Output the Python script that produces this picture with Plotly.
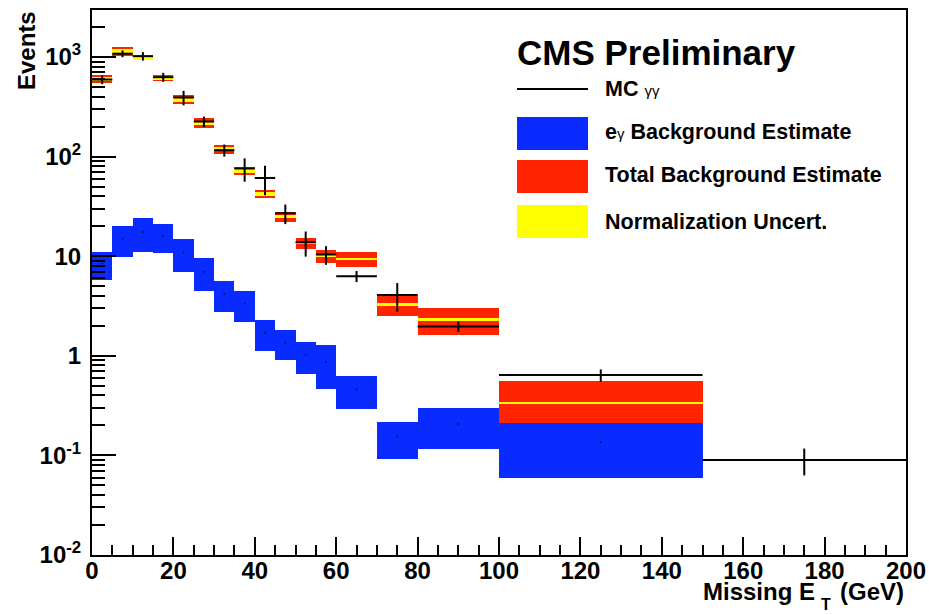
import plotly.graph_objects as go

# Missing ET binning (GeV)
bin_lo = [0, 5, 10, 15, 20, 25, 30, 35, 40, 45, 50, 55, 60, 70, 80, 100, 150]
bin_hi = [5, 10, 15, 20, 25, 30, 35, 40, 45, 50, 55, 60, 70, 80, 100, 150, 200]

# MC gamma-gamma prediction
mc_gg = [594, 1080, 1020, 628, 392, 225, 116, 76, 61, 27, 13.8, 10.4, 6.3, 4.07, 1.97, 0.64, 0.09]
mc_gg_err = [60, 85, 100, 65, 65, 27, 16, 20, 20, 6, 3.9, 2.2, 0.8, 1.3, 0.23, 0.09, 0.027]

# e-gamma background estimate
eg_bkg = [8.45, 14.9, 17.5, 15.9, 10.9, 7.0, 4.2, 3.35, 1.7, 1.36, 1.02, 0.87, 0.46, 0.155, 0.207, 0.136, None]
eg_bkg_err = [2.7, 5.0, 6.6, 5.1, 3.9, 2.55, 1.45, 1.15, 0.58, 0.46, 0.37, 0.41, 0.17, 0.063, 0.091, 0.077, None]

# total background estimate, full uncertainty and normalization-only uncertainty
total_bkg = [600, 1140, 990, 620, 374, 220, 119, 72, 42, 25, 13.5, 10.1, 9.47, 3.3, 2.3, 0.335, None]
total_bkg_err = [54, 110, 65, 43, 37, 24, 12, 7, 3.9, 2.8, 1.8, 1.55, 1.65, 0.78, 0.7, 0.226, None]
norm_err = [28, 60, 62, 29, 17, 10, 5.5, 3.3, 2.0, 0.9, 0.35, 0.35, 0.22, 0.12, 0.08, 0.008, None]

# axis tick labels
y_tickvals = [0.01, 0.1, 1, 10, 100, 1000]
y_ticktext = ["10<sup>-2</sup>", "10<sup>-1</sup>", "1", "10", "10<sup>2</sup>", "10<sup>3</sup>"]
x_tickvals = [0, 20, 40, 60, 80, 100, 120, 140, 160, 180, 200]

BLUE = "#0a2bff"
RED = "#ff2300"
YELLOW = "#ffff00"
FONT = "Liberation Sans"

centers = [(a + b) / 2 for a, b in zip(bin_lo, bin_hi)]
widths = [b - a for a, b in zip(bin_lo, bin_hi)]
half_widths = [w / 2 for w in widths]


def band(values, errors):
    """Return x, height, base, width for bins that have an estimate."""
    xs, hs, bs, ws = [], [], [], []
    for c, w, v, e in zip(centers, widths, values, errors):
        if v is None:
            continue
        xs.append(c)
        hs.append(2 * e)
        bs.append(v - e)
        ws.append(w)
    return xs, hs, bs, ws


fig = go.Figure()

x, h, b, w = band(total_bkg, total_bkg_err)
fig.add_trace(go.Bar(x=x, y=h, base=b, width=w, marker=dict(color=RED, line_width=0),
                     name="Total Background Estimate", showlegend=False))
x, h, b, w = band(total_bkg, norm_err)
fig.add_trace(go.Bar(x=x, y=h, base=b, width=w, marker=dict(color=YELLOW, line_width=0),
                     name="Normalization Uncert.", showlegend=False))
x, h, b, w = band(eg_bkg, eg_bkg_err)
fig.add_trace(go.Bar(x=x, y=h, base=b, width=w, marker=dict(color=BLUE, line_width=0),
                     name="eγ Background Estimate", showlegend=False))

# small central markers of the e-gamma estimate
eg_x = [c for c, v in zip(centers, eg_bkg) if v is not None]
eg_y = [v for v in eg_bkg if v is not None]
fig.add_trace(go.Scatter(x=eg_x, y=eg_y, mode="markers",
                         marker=dict(size=2, color="#101060"), showlegend=False, hoverinfo="skip"))

fig.add_trace(go.Scatter(
    x=centers, y=mc_gg, mode="markers",
    marker=dict(size=1, color="black"),
    error_x=dict(type="data", array=half_widths, width=0, thickness=2, color="black"),
    error_y=dict(type="data", array=mc_gg_err, width=0, thickness=2, color="black"),
    name="MC γγ", showlegend=False,
))

# plot frame in pixels
L, R, T, B = 92, 906, 10, 555


def px(xp):
    return (xp - L) / (R - L)


def py(yp):
    return (B - yp) / (B - T)


tick_font = dict(family=FONT, size=24, color="black", weight="bold")

fig.update_layout(
    width=929, height=615,
    margin=dict(l=L, r=929 - R, t=T, b=615 - B, autoexpand=False),
    paper_bgcolor="white", plot_bgcolor="white",
    barmode="overlay", bargap=0,
    showlegend=False,
    font=dict(family=FONT, color="black"),
    xaxis=dict(
        range=[0, 200], showgrid=False, zeroline=False, automargin=False,
        showline=True, linewidth=2, linecolor="black", mirror=True,
        tickmode="array", tickvals=x_tickvals,
        ticks="inside", ticklen=18, tickwidth=2, tickcolor="black",
        tickfont=tick_font, ticklabelstandoff=-7,
        minor=dict(ticks="inside", ticklen=10, tickwidth=2, tickcolor="black",
                   dtick=5, tick0=0, showgrid=False),
    ),
    yaxis=dict(
        type="log", range=[-2, 3.472], showgrid=False, zeroline=False, automargin=False,
        showline=True, linewidth=2, linecolor="black", mirror=True,
        tickmode="array", tickvals=y_tickvals, ticktext=y_ticktext,
        ticks="inside", ticklen=24, tickwidth=2, tickcolor="black",
        tickfont=tick_font, ticklabelstandoff=4,
        minor=dict(ticks="inside", ticklen=13, tickwidth=2, tickcolor="black",
                   tickmode="array",
                   tickvals=[m * 10 ** e for e in range(-2, 4) for m in range(2, 10)],
                   showgrid=False),
    ),
)

ann = []
# axis titles
ann.append(dict(text="<b>Missing E</b>", x=px(817), y=py(591), xanchor="right", yanchor="middle",
                font=dict(size=24)))
ann.append(dict(text="<b>T</b>", x=px(826), y=py(605), xanchor="center", yanchor="middle",
                font=dict(size=16)))
ann.append(dict(text="<b>(GeV)</b>", x=px(906), y=py(591), xanchor="right", yanchor="middle",
                font=dict(size=24)))
ann.append(dict(text="<b>Events</b>", x=px(27), y=py(51), xanchor="center", yanchor="middle",
                textangle=-90, font=dict(size=24)))

# legend block
ann.append(dict(text="<b>CMS Preliminary</b>", x=px(515), y=py(52), xanchor="left", yanchor="middle",
                font=dict(size=35)))
legend_rows = [
    ("<b>MC</b> <span style='font-size:15px;font-weight:normal'>γγ</span>", 89),
    ("<b>e</b><span style='font-size:15px;font-weight:normal'>γ</span><b> Background Estimate</b>", 132),
    ("<b>Total Background Estimate</b>", 175),
    ("<b>Normalization Uncert.</b>", 222),
]
for text, yc in legend_rows:
    ann.append(dict(text=text, x=px(603), y=py(yc), xanchor="left", yanchor="middle",
                    font=dict(size=21.5)))

for a in ann:
    a.update(xref="paper", yref="paper", showarrow=False)
fig.update_layout(annotations=ann)

shapes = [
    dict(type="line", x0=px(517), x1=px(588), y0=py(89), y1=py(89),
         line=dict(color="black", width=2)),
    dict(type="rect", x0=px(517), x1=px(588), y0=py(150), y1=py(117),
         fillcolor=BLUE, line_width=0),
    dict(type="rect", x0=px(517), x1=px(588), y0=py(193), y1=py(160),
         fillcolor=RED, line_width=0),
    dict(type="rect", x0=px(517), x1=px(588), y0=py(238), y1=py(205),
         fillcolor=YELLOW, line_width=0),
]
for s in shapes:
    s.update(xref="paper", yref="paper")
fig.update_layout(shapes=shapes)

fig.write_html("out.html")
